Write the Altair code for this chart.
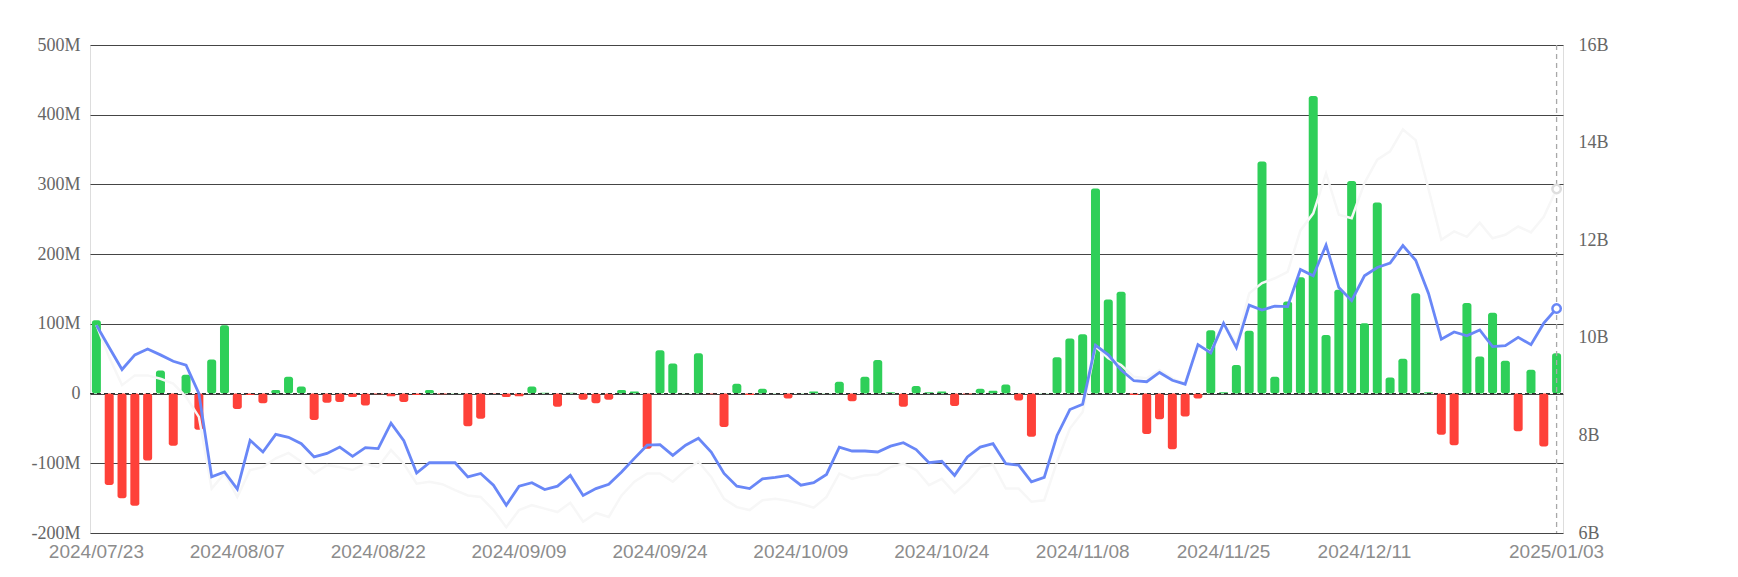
import altair as alt
import pandas as pd

# Trading-day categories (US market holidays removed)
holidays = ["2024-09-02", "2024-11-28", "2024-12-25", "2025-01-01"]
dates = [d.strftime("%Y/%m/%d") for d in pd.bdate_range("2024-07-23", "2025-01-03")
         if d.strftime("%Y-%m-%d") not in holidays]

# Daily net flow (millions)
flows_m = [105, -131, -150, -161, -96, 33, -75, 27, -52, 49,
           98, -22, -2, -14, 5, 24, 10, -38, -13, -12,
           -5, -17, -1, -4, -12, -2, 5, -1, 0.5, -47,
           -36, -0.5, -5, -4, 10, 1, -19, 1, -9, -14,
           -9, 5, 3, -79, 62, 43, 0.3, 58, -1, -48,
           14, -2, 7, 0.5, -7, 0.5, 3, 0.5, 17, -11,
           24, 48, 2, -19, 11, 2, 3, -18, -1, 7,
           4, 13, -10, -62, 0.5, 52, 79, 85, 294, 135,
           146, -2, -58, -37, -80, -33, -7, 91, 2, 41,
           90, 333, 24, 132, 167, 427, 84, 149, 305, 101,
           274, 23, 50, 144, 2, -59, -74, 130, 53, 116,
           47, -54, 34, -76, 58]

# Total assets (billions) - blue line
blue_b = [10.26, 9.8, 9.35, 9.65, 9.77, 9.65, 9.52, 9.44, 8.86, 7.15,
          7.25, 6.9, 7.90, 7.66, 8.02, 7.96, 7.83, 7.56, 7.63, 7.76,
          7.57, 7.75, 7.73, 8.25, 7.89, 7.23, 7.44, 7.44, 7.44, 7.15,
          7.22, 6.98, 6.57, 6.96, 7.03, 6.89, 6.96, 7.18, 6.77, 6.91,
          7.00, 7.25, 7.53, 7.80, 7.81, 7.59, 7.8, 7.94, 7.66, 7.22,
          6.96, 6.91, 7.11, 7.14, 7.18, 6.98, 7.03, 7.20, 7.76, 7.68,
          7.68, 7.66, 7.78, 7.85, 7.71, 7.44, 7.47, 7.18, 7.56, 7.76,
          7.83, 7.42, 7.39, 7.05, 7.14, 8.00, 8.53, 8.64, 9.85, 9.65,
          9.34, 9.12, 9.10, 9.29, 9.13, 9.05, 9.86, 9.69, 10.30, 9.80,
          10.67, 10.57, 10.65, 10.64, 11.40, 11.27, 11.90, 11.03, 10.76, 11.27,
          11.44, 11.53, 11.89, 11.59, 10.91, 9.97, 10.12, 10.04, 10.16, 9.82,
          9.84, 10.01, 9.86, 10.30, 10.60]

# Faint second line (billions)
white_b = [10.26, 9.6, 9.03, 9.23, 9.23, 9.16, 9.06, 8.79, 8.38, 6.91,
           7.22, 6.74, 7.29, 7.35, 7.53, 7.64, 7.46, 7.22, 7.39, 7.35,
           7.29, 7.42, 7.35, 7.70, 7.42, 7.01, 7.05, 7.0, 6.88, 6.77,
           6.74, 6.47, 6.12, 6.47, 6.57, 6.5, 6.43, 6.62, 6.23, 6.41,
           6.33, 6.77, 7.05, 7.22, 7.22, 7.05, 7.29, 7.46, 7.15, 6.70,
           6.53, 6.47, 6.67, 6.70, 6.66, 6.60, 6.52, 6.74, 7.22, 7.11,
           7.18, 7.20, 7.35, 7.42, 7.29, 6.98, 7.11, 6.82, 7.05, 7.35,
           7.40, 6.91, 6.91, 6.64, 6.67, 7.46, 8.14, 8.48, 9.82, 9.58,
           9.44, 9.2, 9.17, 9.34, 9.17, 9.06, 9.85, 9.71, 10.3, 9.89,
           10.91, 11.12, 11.22, 11.35, 12.2, 12.55, 13.37, 12.52, 12.45, 13.17,
           13.65, 13.82, 14.27, 14.05, 13.05, 12.01, 12.18, 12.07, 12.36, 12.04,
           12.11, 12.28, 12.16, 12.48, 13.05]

left_ticks = [-200e6, -100e6, 0, 100e6, 200e6, 300e6, 400e6, 500e6]
right_ticks = [6e9, 8e9, 10e9, 12e9, 14e9, 16e9]
label_idx = [0, 11, 22, 33, 44, 55, 66, 77, 88, 99, 114]
x_labels = [dates[i] for i in label_idx]

GREEN = "#2fcf59"
RED = "#fe4139"
BLUE = "#6987f7"

df = pd.DataFrame({
    "date": dates,
    "flow": [v * 1e6 for v in flows_m],
    "blue": [v * 1e9 for v in blue_b],
    "white": [v * 1e9 for v in white_b],
})

x_enc = alt.X(
    "date:O", sort=dates,
    scale=alt.Scale(paddingInner=0, paddingOuter=0),
    axis=alt.Axis(values=x_labels, title=None, labelAngle=0, domain=False, ticks=False,
                  labelFont="Liberation Sans", labelFontSize=19, labelColor="#8c8c8c",
                  labelPadding=9, labelOverlap=False),
)

base = alt.Chart(df)

left_y_scale = alt.Scale(domain=[-200e6, 500e6], nice=False, zero=False)
left_axis = alt.Axis(values=left_ticks, title=None, domain=False, ticks=False,
                     grid=True, gridColor="#454545", gridWidth=1,
                     labelExpr="datum.value == 0 ? '0' : (datum.value/1e6) + 'M'",
                     labelFont="Liberation Serif", labelFontSize=18, labelColor="#666666",
                     labelPadding=10)

bars = base.mark_bar(size=9, cornerRadius=2.5).encode(
    x=x_enc,
    y=alt.Y("flow:Q", scale=left_y_scale, axis=left_axis),
    y2=alt.datum(0),
    color=alt.condition(alt.datum.flow >= 0, alt.value(GREEN), alt.value(RED)),
)

zero_rule = base.transform_filter(alt.datum.date == dates[0]).mark_rule(
    color="#222222", strokeDash=[4, 3], strokeWidth=1
).encode(
    x=alt.value(0), x2=alt.value(1473),
    y=alt.Y("zero:Q", scale=left_y_scale, axis=left_axis),
).transform_calculate(zero="0")

vrule = base.transform_filter(alt.datum.date == dates[-1]).mark_rule(
    color="#a8a8a8", strokeDash=[5, 4], strokeWidth=1.3
).encode(
    x=alt.X("date:O", sort=dates, bandPosition=0.5),
    y=alt.value(0), y2=alt.value(488),
)

left = alt.layer(bars, zero_rule, vrule)

right_scale = alt.Scale(domain=[6e9, 16e9], nice=False, zero=False)
right_axis = alt.Axis(orient="right", values=right_ticks, title=None, domain=False, ticks=False,
                      grid=False, labelExpr="(datum.value/1e9) + 'B'",
                      labelFont="Liberation Serif", labelFontSize=18, labelColor="#666666",
                      labelPadding=15)

white_line = base.mark_line(color="#f7f7f7", strokeWidth=2.5).encode(
    x=x_enc, y=alt.Y("white:Q", scale=right_scale, axis=right_axis))
blue_line = base.mark_line(color=BLUE, strokeWidth=2.8).encode(
    x=x_enc, y=alt.Y("blue:Q", scale=right_scale, axis=right_axis))
white_pt = base.transform_filter(alt.datum.date == dates[-1]).mark_point(
    shape="circle", size=70, filled=True, fill="white", stroke="#dedede", strokeWidth=2.5, opacity=1
).encode(x=x_enc, y=alt.Y("white:Q", scale=right_scale, axis=right_axis))
blue_pt = base.transform_filter(alt.datum.date == dates[-1]).mark_point(
    shape="circle", size=70, filled=True, fill="white", stroke=BLUE, strokeWidth=2.5, opacity=1
).encode(x=x_enc, y=alt.Y("blue:Q", scale=right_scale, axis=right_axis))

right = alt.layer(white_line, blue_line, white_pt, blue_pt)

chart = alt.layer(left, right).resolve_scale(y="independent").properties(
    width=1473, height=488,
    padding={"left": 90, "top": 45, "right": 175, "bottom": 44},
    autosize=alt.AutoSizeParams(type="none"),
).configure_view(stroke=None).configure(background="white")

chart.save("out.html", embed_options={"renderer": "svg", "actions": False})
